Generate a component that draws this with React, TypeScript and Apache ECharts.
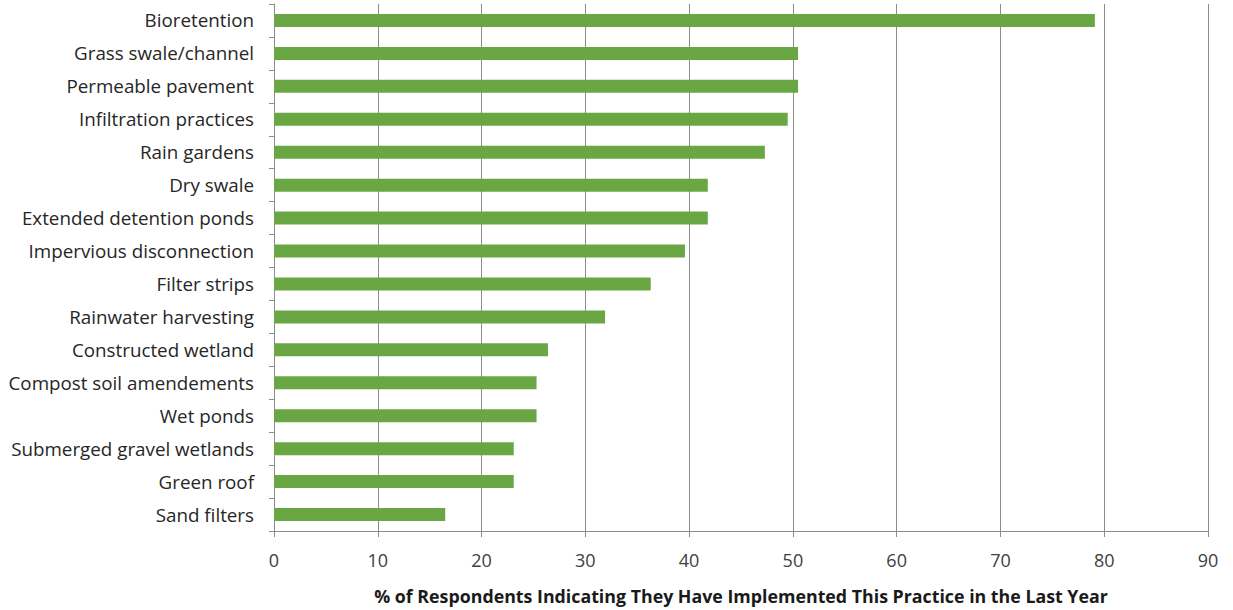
import React, { useEffect, useRef } from "react";
import * as echarts from "echarts";

const categories = [
  "Bioretention",
  "Grass swale/channel",
  "Permeable pavement",
  "Infiltration practices",
  "Rain gardens",
  "Dry swale",
  "Extended detention ponds",
  "Impervious disconnection",
  "Filter strips",
  "Rainwater harvesting",
  "Constructed wetland",
  "Compost soil amendements",
  "Wet ponds",
  "Submerged gravel wetlands",
  "Green roof",
  "Sand filters",
];
const values = [79.1, 50.5, 50.5, 49.5, 47.3, 41.8, 41.8, 39.6, 36.3, 31.9, 26.4, 25.3, 25.3, 23.1, 23.1, 16.5];
const xTitle = "% of Respondents Indicating They Have Implemented This Practice in the Last Year";

export default function App() {
  const ref = useRef<HTMLDivElement>(null);
  useEffect(() => {
    document.body.style.margin = "0";
    const chart = echarts.init(ref.current!, null, { renderer: "svg" });
    const font = "'Open Sans', sans-serif";
    chart.setOption({
      animation: false,
      backgroundColor: "#ffffff",
      grid: { left: 274, right: 25, top: 4, bottom: 76, containLabel: false },
      xAxis: {
        type: "value",
        min: 0,
        max: 90,
        interval: 10,
        name: xTitle,
        nameLocation: "middle",
        nameGap: 56,
        nameTextStyle: { fontFamily: font, fontSize: 17.8, fontWeight: "bold", color: "#1a1a1a" },
        axisLine: { show: true, lineStyle: { color: "#8c8c8c", width: 1 } },
        axisTick: { show: true, length: 6, lineStyle: { color: "#8c8c8c" } },
        axisLabel: { fontFamily: font, fontSize: 18, color: "#404040", margin: 20 },
        splitLine: { show: true, lineStyle: { color: "#8c8c8c", width: 1 } },
      },
      yAxis: {
        type: "category",
        data: categories,
        inverse: true,
        axisLine: { show: true, lineStyle: { color: "#8c8c8c", width: 1 } },
        axisTick: { show: true, length: 5, lineStyle: { color: "#8c8c8c" } },
        axisLabel: { fontFamily: font, fontSize: 18.8, color: "#262626", margin: 20 },
        splitLine: { show: false },
      },
      series: [
        {
          type: "bar",
          data: values,
          barWidth: 13,
          itemStyle: { color: "#6aa744" },
        },
      ],
    });
    return () => chart.dispose();
  }, []);
  return <div ref={ref} style={{ width: 1233, height: 610 }} />;
}
